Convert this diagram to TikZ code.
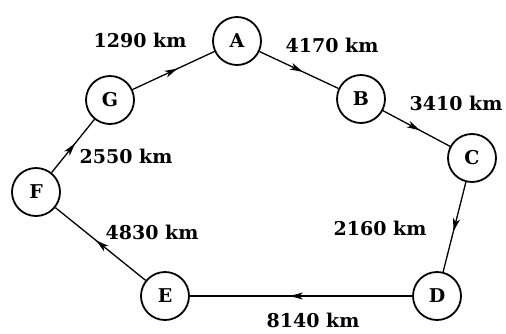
\documentclass[tikz,border=0pt]{standalone}
\usepackage{fontspec}
\setmainfont{DejaVu Serif}
\usetikzlibrary{arrows.meta,decorations.markings}
\begin{document}
\begin{tikzpicture}[x=1pt,y=-1pt,
  city/.style={draw,circle,line width=1.8pt,minimum size=48pt,inner sep=0pt,
    font=\fontsize{19}{22}\selectfont\bfseries},
  dist/.style={font=\fontsize{19}{22}\selectfont\bfseries,inner sep=0pt},
  route/.style={line width=1.3pt,postaction={decorate},
    decoration={markings,mark=at position 0.55 with
      {\arrow{Stealth[length=13pt,width=7pt,inset=3.5pt]}}}}]
  \useasboundingbox (0,0) rectangle (506,333);
  % cities
  \node[city] (A) at (237,41) {A};
  \node[city] (B) at (361,99) {B};
  \node[city] (C) at (472,158) {C};
  \node[city] (D) at (437,296) {D};
  \node[city] (E) at (165,296) {E};
  \node[city] (F) at (36,192) {F};
  \node[city] (G) at (110,100) {G};
  % routes
  \draw[route] (G) -- (A);
  \draw[route] (A) -- (B);
  \draw[route] (B) -- (C);
  \draw[route] (C) -- (D);
  \draw[route] (D) -- (E);
  \draw[route] (E) -- (F);
  \draw[route] (F) -- (G);
  % distances
  \node[dist] (dGA) at (140,40) {1290 km};
  \node[dist] (dAB) at (332,45) {4170 km};
  \node[dist] (dBC) at (456,103) {3410 km};
  \node[dist] (dCD) at (380,228) {2160 km};
  \node[dist] (dDE) at (313,320) {8140 km};
  \node[dist] (dEF) at (152,232) {4830 km};
  \node[dist] (dFG) at (126,156) {2550 km};
\end{tikzpicture}
\end{document}
